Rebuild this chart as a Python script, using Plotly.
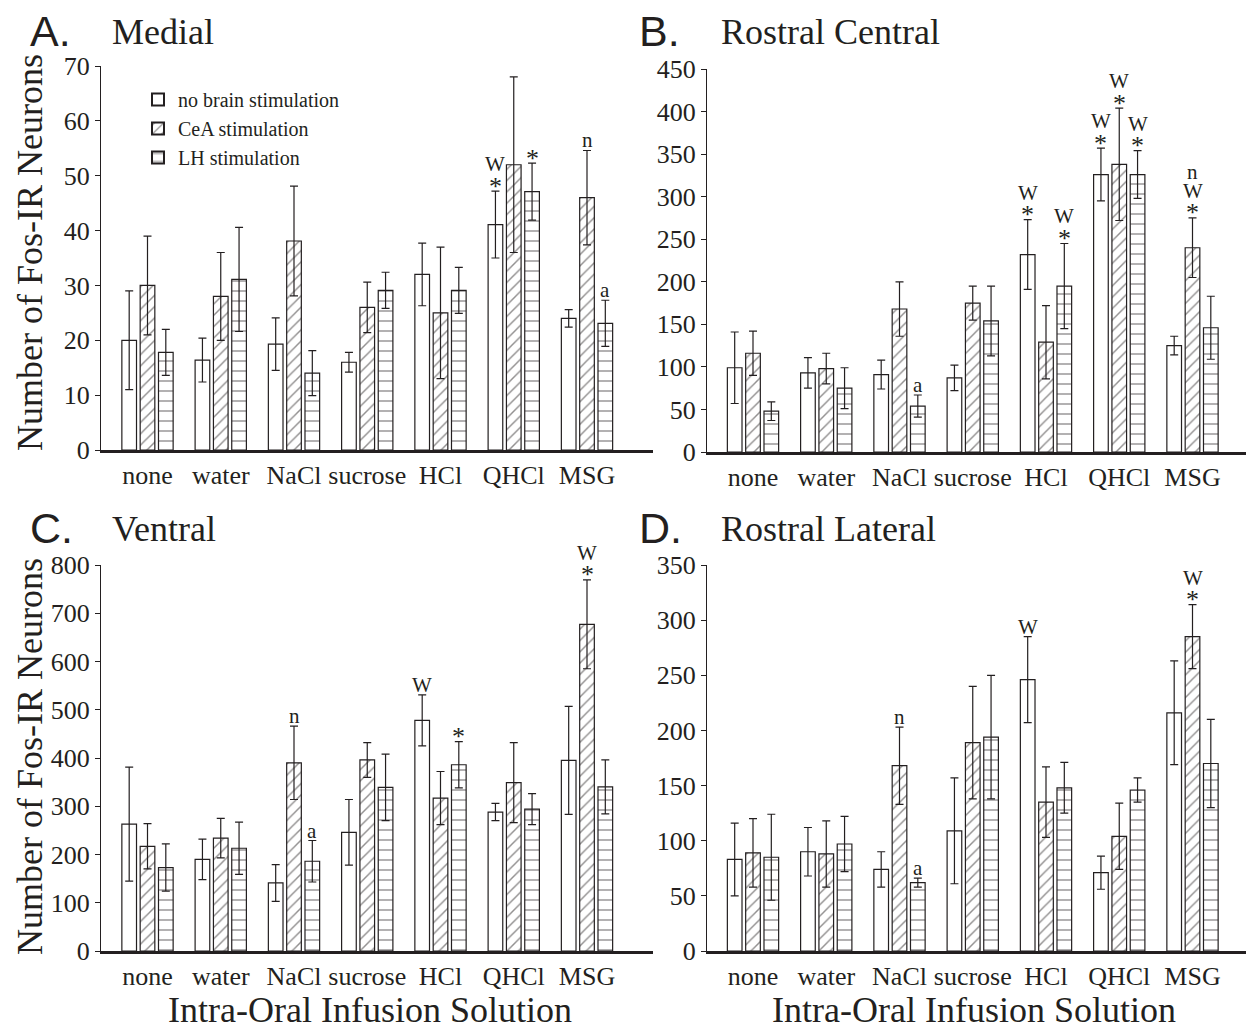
import plotly.graph_objects as go

# The page body adds an 8 px margin, so the figure is drawn 8 px smaller and
# every target pixel position is offset by 8 px.
OFF = 8
W, H = 1254 - OFF, 1029 - OFF

categories = ["none", "water", "NaCl", "sucrose", "HCl", "QHCl", "MSG"]
series_names = ["no brain stimulation", "CeA stimulation", "LH stimulation"]

# Panel A - Medial
A_none = [20.0, 16.4, 19.3, 16.0, 32.0, 41.1, 24.0]
A_none_err = [9.0, 4.0, 4.8, 1.8, 5.7, 6.1, 1.6]
A_cea = [30.0, 28.0, 38.1, 26.0, 25.0, 52.0, 46.0]
A_cea_err = [9.0, 8.0, 10.0, 4.6, 12.0, 16.0, 8.6]
A_lh = [17.8, 31.1, 14.0, 29.1, 29.1, 47.1, 23.1]
A_lh_err = [4.2, 9.5, 4.1, 3.3, 4.2, 5.2, 4.2]

# Panel B - Rostral Central
B_none = [99, 93, 91, 87, 232, 326, 125]
B_none_err = [42, 18, 17, 15, 41, 31, 11]
B_cea = [116, 98, 168, 175, 129, 338, 240]
B_cea_err = [26, 18, 32, 20, 43, 66, 35]
B_lh = [48, 75, 54, 154, 195, 326, 146]
B_lh_err = [11, 24, 13, 41, 50, 28, 37]

# Panel C - Ventral
C_none = [263, 190, 141, 246, 478, 288, 395]
C_none_err = [118, 42, 38, 68, 53, 18, 112]
C_cea = [217, 234, 390, 396, 317, 349, 677]
C_cea_err = [47, 41, 76, 36, 55, 83, 92]
C_lh = [173, 213, 186, 339, 386, 294, 340]
C_lh_err = [49, 54, 43, 69, 48, 32, 56]

# Panel D - Rostral Lateral
D_none = [83, 90, 74, 109, 246, 71, 216]
D_none_err = [33, 22, 16, 48, 39, 15, 47]
D_cea = [89, 88, 168, 189, 135, 104, 285]
D_cea_err = [31, 30, 35, 51, 32, 30, 29]
D_lh = [85, 97, 62, 194, 148, 146, 170]
D_lh_err = [39, 25, 4, 56, 23, 11, 40]

panel_letters = ["A.", "B.", "C.", "D."]
panel_titles = ["Medial", "Rostral Central", "Ventral", "Rostral Lateral"]
y_max = [70, 450, 800, 350]
y_dtick = [10, 50, 100, 50]

# significance labels: (panel, category, series, labels bottom->top)
sig_marks = [
    (0, 5, 0, ["*", "W"]), (0, 5, 2, ["*"]), (0, 6, 1, ["n"]), (0, 6, 2, ["a"]),
    (1, 2, 2, ["a"]), (1, 4, 0, ["*", "W"]), (1, 4, 2, ["*", "W"]),
    (1, 5, 0, ["*", "W"]), (1, 5, 1, ["*", "W"]), (1, 5, 2, ["*", "W"]),
    (1, 6, 1, ["*", "W", "n"]),
    (2, 2, 1, ["n"]), (2, 2, 2, ["a"]), (2, 4, 0, ["W"]), (2, 4, 2, ["*"]),
    (2, 6, 1, ["*", "W"]),
    (3, 2, 1, ["n"]), (3, 2, 2, ["a"]), (3, 4, 0, ["W"]), (3, 6, 1, ["*", "W"]),
]

panels = [
    [(A_none, A_none_err), (A_cea, A_cea_err), (A_lh, A_lh_err)],
    [(B_none, B_none_err), (B_cea, B_cea_err), (B_lh, B_lh_err)],
    [(C_none, C_none_err), (C_cea, C_cea_err), (C_lh, C_lh_err)],
    [(D_none, D_none_err), (D_cea, D_cea_err), (D_lh, D_lh_err)],
]

SERIF = "Liberation Serif, Times New Roman, serif"
SANS = "Liberation Sans, Arial, sans-serif"
INK = "#231f20"

patterns = [
    dict(shape="", fgcolor=INK, bgcolor="white"),
    dict(shape="/", fgcolor=INK, bgcolor="white", size=8, solidity=0.18),
    dict(shape="-", fgcolor=INK, bgcolor="white", size=10, solidity=0.14),
]


def px_x(p):
    return (p - OFF) / W


def px_y(p):
    return 1 - (p - OFF) / H


# pixel geometry (target screen pixels)
x_dom_px = [(101, 653), (707, 1254), (101, 653), (707, 1254)]
y_dom_px = [(450, 66), (452, 69), (951, 565), (951, 565)]
first_center_px = [147.5, 753, 147.5, 753]
unit_px = 73.25

fig = go.Figure()
x_idx = list(range(len(categories)))

for p in range(4):
    ax = "" if p == 0 else str(p + 1)
    for s in range(3):
        vals, errs = panels[p][s]
        fig.add_trace(go.Bar(
            x=x_idx, y=vals, name=series_names[s],
            xaxis="x" + ax, yaxis="y" + ax,
            legendgroup=series_names[s], showlegend=(p == 0),
            marker=dict(color="white", line=dict(color=INK, width=1.2),
                        pattern=patterns[s]),
            error_y=dict(type="data", array=errs, visible=True,
                         color=INK, thickness=1.2, width=4),
        ))

layout = dict(
    width=W, height=H, margin=dict(l=0, r=0, t=0, b=0, autoexpand=False),
    paper_bgcolor="white", plot_bgcolor="white",
    barmode="group", bargap=0.25, bargroupgap=0.2,
    font=dict(family=SERIF, color=INK),
    showlegend=True,
    legend=dict(x=px_x(138), y=px_y(80), xanchor="left", yanchor="top",
                font=dict(family=SERIF, size=20, color=INK),
                bgcolor="rgba(0,0,0,0)", tracegroupgap=0,
                itemsizing="constant"),
)

annotations = []
for p in range(4):
    ax = "" if p == 0 else str(p + 1)
    x0, x1 = x_dom_px[p]
    yb, yt = y_dom_px[p]
    lo = -(first_center_px[p] - x0) / unit_px
    hi = lo + (x1 - x0) / unit_px
    layout["xaxis" + ax] = dict(
        domain=[px_x(x0), min(1.0, px_x(x1))], range=[lo, hi], anchor="y" + ax,
        tickvals=x_idx, ticktext=categories, ticks="", automargin=False,
        showline=True, linecolor=INK, linewidth=2.5,
        showgrid=False, zeroline=False,
        tickfont=dict(family=SERIF, size=26, color=INK),
    )
    layout["yaxis" + ax] = dict(
        domain=[px_y(yb), px_y(yt)], range=[0, y_max[p]], anchor="x" + ax,
        dtick=y_dtick[p], tick0=0, ticks="outside", ticklen=5, tickwidth=1.2,
        tickcolor=INK, showline=True, linecolor=INK, linewidth=1.3,
        showgrid=False, zeroline=False, automargin=False,
        tickfont=dict(family=SERIF, size=26, color=INK),
    )
    # panel letter and title
    lx = 28 if p % 2 == 0 else 637
    ty = 31 if p < 2 else 528
    annotations.append(dict(
        text=panel_letters[p], xref="paper", yref="paper",
        x=px_x(lx), y=px_y(ty), xanchor="left", yanchor="middle",
        showarrow=False, font=dict(family=SANS, size=43, color=INK)))
    annotations.append(dict(
        text=panel_titles[p], xref="paper", yref="paper",
        x=px_x(lx + 82), y=px_y(ty + 1), xanchor="left", yanchor="middle",
        showarrow=False, font=dict(family=SERIF, size=36, color=INK)))

# axis titles
for cy in (253, 757):
    annotations.append(dict(
        text="Number of Fos-IR Neurons", xref="paper", yref="paper",
        x=px_x(30), y=px_y(cy), xanchor="center", yanchor="middle",
        textangle=-90, showarrow=False,
        font=dict(family=SERIF, size=36, color=INK)))
for cx in (370, 974):
    annotations.append(dict(
        text="Intra-Oral Infusion Solution", xref="paper", yref="paper",
        x=px_x(cx), y=px_y(1010), xanchor="center", yanchor="middle",
        showarrow=False, font=dict(family=SERIF, size=36, color=INK)))

# significance marks
offsets = [10, 27, 46]
for p, c, s, labels in sig_marks:
    ax = "" if p == 0 else str(p + 1)
    vals, errs = panels[p][s]
    top = vals[c] + errs[c]
    xpos = c + (s - 1) * 0.25
    for k, lab in enumerate(labels):
        is_star = lab == "*"
        annotations.append(dict(
            text=lab, xref="x" + ax, yref="y" + ax, x=xpos, y=top,
            xanchor="center", yanchor="middle", showarrow=False,
            yshift=offsets[k] - (5 if is_star else 0),
            font=dict(family=SERIF, size=26 if is_star else 21, color=INK)))

layout["annotations"] = annotations
fig.update_layout(**layout)
fig.write_html("out.html")
